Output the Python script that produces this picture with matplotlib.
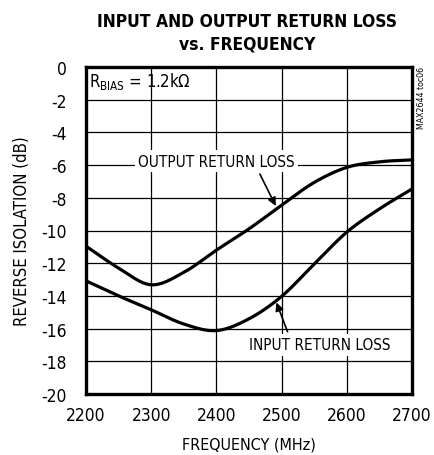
import matplotlib
matplotlib.use("Agg")
import matplotlib.pyplot as plt
import numpy as np

plt.rcParams['font.family'] = ['DejaVu Sans']
plt.rcParams['font.stretch'] = 'condensed'

freq = [2200, 2250, 2300, 2350, 2400, 2450, 2500, 2550, 2600, 2650, 2700]
output_rl = [-10.96, -12.3, -13.32, -12.56, -11.2, -9.9, -8.45, -7.06, -6.14, -5.8, -5.68]
input_rl = [-13.08, -14.0, -14.85, -15.72, -16.12, -15.4, -14.03, -12.05, -10.1, -8.68, -7.46]
xticks = [2200, 2300, 2400, 2500, 2600, 2700]
yticks = [0, -2, -4, -6, -8, -10, -12, -14, -16, -18, -20]

fig = plt.figure(figsize=(4.35, 4.56), dpi=100)
ax = fig.add_axes([86/435, 61/456, 326/435, 327/456])

xs = np.linspace(2200, 2700, 400)
def smooth(xp, yp):
    xp = np.asarray(xp, float); yp = np.asarray(yp, float)
    out = []
    for x in xs:
        i = min(np.searchsorted(xp, x, side='right') - 1, len(xp) - 2)
        t = (x - xp[i]) / (xp[i+1] - xp[i])
        p0 = yp[i-1] if i > 0 else 2*yp[0]-yp[1]
        p1 = yp[i]; p2 = yp[i+1]
        p3 = yp[i+2] if i+2 < len(yp) else 2*yp[-1]-yp[-2]
        out.append(0.5*((2*p1) + (-p0+p2)*t + (2*p0-5*p1+4*p2-p3)*t**2 + (-p0+3*p1-3*p2+p3)*t**3))
    return np.array(out)

ax.plot(xs, smooth(freq, output_rl), color='black', lw=2.3, zorder=3)
ax.plot(xs, smooth(freq, input_rl), color='black', lw=2.3, zorder=3)

ax.set_xlim(2200, 2700)
ax.set_ylim(-20, 0)
ax.set_xticks(xticks)
ax.set_yticks(yticks)
ax.set_xticklabels([str(v) for v in xticks])
ax.set_yticklabels([str(v) for v in yticks])
ax.tick_params(length=0, labelsize=12.5)
ax.tick_params(axis='x', pad=9)
ax.tick_params(axis='y', pad=14)
ax.grid(True, color='black', lw=0.9)
for s in ax.spines.values():
    s.set_linewidth(2.4)

ax.set_xlabel("FREQUENCY (MHz)", fontsize=11.5, labelpad=9)
ax.set_ylabel("REVERSE ISOLATION (dB)", fontsize=12, labelpad=7)

fig.text(247/435, 1 - 22/456, "INPUT AND OUTPUT RETURN LOSS", ha='center', va='center',
         fontsize=12.5, fontweight='bold')
fig.text(247/435, 1 - 45/456, "vs. FREQUENCY", ha='center', va='center',
         fontsize=12.5, fontweight='bold')

ax.text(2205, -0.85, r"R$_{\mathregular{BIAS}}$ = 1.2k$\Omega$", fontsize=12, va='center', ha='left')

ax.annotate("OUTPUT RETURN LOSS", xy=(2491, -8.5), xytext=(2400, -5.75),
            fontsize=11, ha='center', va='center',
            bbox=dict(boxstyle='square,pad=0.2', fc='white', ec='none'),
            arrowprops=dict(arrowstyle='-|>', color='black', lw=1.2, shrinkA=2, shrinkB=0,
                            mutation_scale=12, relpos=(0.76, 0.0)), zorder=4)
ax.annotate("INPUT RETURN LOSS", xy=(2492, -14.4), xytext=(2558, -17.0),
            fontsize=11, ha='center', va='center',
            bbox=dict(boxstyle='square,pad=0.2', fc='white', ec='none'),
            arrowprops=dict(arrowstyle='-|>', color='black', lw=1.2, shrinkA=2, shrinkB=0,
                            mutation_scale=12, relpos=(0.29, 1.0)), zorder=4)

fig.text(422/435, 1 - 67/456, "MAX2644 toc06", rotation=90, fontsize=5.7, ha='center', va='top',
         fontstretch='normal')

fig.savefig("out.png", dpi=100)
